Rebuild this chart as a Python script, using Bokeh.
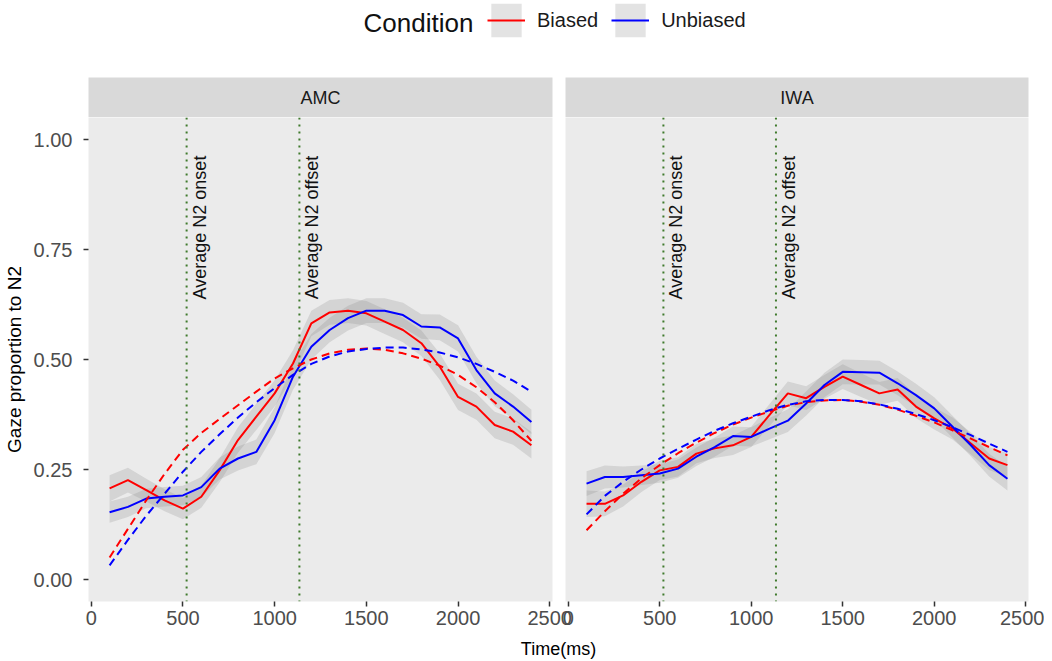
from math import pi
from bokeh.plotting import figure
from bokeh.models import (ColumnDataSource, Span, Label, Range1d, FixedTicker,
                          NumeralTickFormatter, Legend, LegendItem)
from bokeh.layouts import row, column
from bokeh.embed import file_html
from bokeh.resources import INLINE
from bokeh.core.properties import value

# ---------------- data ----------------
time_ms = [100, 200, 300, 400, 500, 600, 700, 800, 900, 1000, 1100, 1200,
           1300, 1400, 1500, 1600, 1700, 1800, 1900, 2000, 2100, 2200, 2300, 2400]

amc_biased = [0.207, 0.226, 0.203, 0.180, 0.161, 0.188, 0.248, 0.317, 0.370, 0.423, 0.491, 0.582,
              0.607, 0.611, 0.605, 0.586, 0.567, 0.537, 0.484, 0.415, 0.393, 0.351, 0.336, 0.305]
amc_biased_se = [0.030, 0.028, 0.026, 0.025, 0.024, 0.025, 0.027, 0.029, 0.030, 0.030, 0.030, 0.029,
                 0.028, 0.028, 0.028, 0.028, 0.028, 0.029, 0.030, 0.030, 0.030, 0.030, 0.030, 0.030]
amc_unbiased = [0.153, 0.165, 0.184, 0.188, 0.191, 0.210, 0.252, 0.275, 0.290, 0.362, 0.461, 0.529,
                0.567, 0.594, 0.611, 0.611, 0.601, 0.575, 0.573, 0.548, 0.476, 0.423, 0.393, 0.358]
amc_unbiased_se = [0.024, 0.023, 0.022, 0.022, 0.022, 0.023, 0.025, 0.027, 0.028, 0.029, 0.030, 0.029,
                   0.028, 0.028, 0.028, 0.028, 0.028, 0.028, 0.029, 0.030, 0.030, 0.029, 0.028, 0.028]
amc_biased_fit = [0.050, 0.115, 0.180, 0.240, 0.295, 0.333, 0.365, 0.396, 0.427, 0.457, 0.480, 0.500,
                  0.514, 0.522, 0.525, 0.522, 0.514, 0.502, 0.486, 0.465, 0.437, 0.403, 0.362, 0.315]
amc_unbiased_fit = [0.032, 0.090, 0.145, 0.195, 0.245, 0.290, 0.330, 0.368, 0.403, 0.435, 0.465, 0.490,
                    0.507, 0.518, 0.524, 0.527, 0.527, 0.523, 0.516, 0.505, 0.490, 0.472, 0.452, 0.427]

iwa_biased = [0.172, 0.172, 0.191, 0.222, 0.248, 0.256, 0.286, 0.298, 0.305, 0.324, 0.374, 0.423,
              0.412, 0.438, 0.461, 0.442, 0.423, 0.432, 0.393, 0.366, 0.343, 0.309, 0.275, 0.260]
iwa_biased_se = [0.030, 0.028, 0.025, 0.023, 0.022, 0.022, 0.022, 0.022, 0.022, 0.023, 0.025, 0.027,
                 0.027, 0.027, 0.028, 0.027, 0.026, 0.026, 0.026, 0.025, 0.025, 0.025, 0.026, 0.027]
iwa_unbiased = [0.218, 0.233, 0.233, 0.237, 0.241, 0.252, 0.279, 0.301, 0.326, 0.324, 0.343, 0.361,
                0.400, 0.442, 0.472, 0.471, 0.470, 0.446, 0.419, 0.389, 0.347, 0.305, 0.260, 0.229]
iwa_unbiased_se = [0.028, 0.026, 0.024, 0.022, 0.021, 0.021, 0.021, 0.022, 0.022, 0.022, 0.024, 0.026,
                   0.027, 0.028, 0.028, 0.028, 0.027, 0.027, 0.026, 0.025, 0.025, 0.025, 0.026, 0.027]
iwa_biased_fit = [0.112, 0.155, 0.195, 0.230, 0.260, 0.287, 0.311, 0.333, 0.352, 0.368, 0.382, 0.395,
                  0.403, 0.407, 0.408, 0.404, 0.397, 0.386, 0.372, 0.357, 0.339, 0.320, 0.301, 0.282]
iwa_unbiased_fit = [0.148, 0.190, 0.222, 0.250, 0.275, 0.297, 0.318, 0.338, 0.355, 0.370, 0.385, 0.397,
                    0.405, 0.408, 0.408, 0.405, 0.398, 0.388, 0.376, 0.362, 0.346, 0.328, 0.309, 0.290]

n2_onset = 520
n2_offset = 1135
panel_names = ["AMC", "IWA"]
conditions = ["Biased", "Unbiased"]
x_ticks = [0, 500, 1000, 1500, 2000, 2500]
y_ticks = [0, 0.25, 0.5, 0.75, 1.0]

# ---------------- style ----------------
FONT = "Liberation Sans"
COLORS = {"Biased": "#ff0000", "Unbiased": "#0000ff"}
PANEL_BG = "#ebebeb"
STRIP_BG = "#d9d9d9"
RIBBON = "#8c8c8c"
RIBBON_ALPHA = 0.24
GUIDE = "#3f7a2c"

X_RANGE = (-15, 2515)
Y_RANGE = (-0.05, 1.05)
FRAME_H = 484
STRIP_H = 40
BOTTOM = 34
LEG_H = 77
XLAB_H = 26


def build_panel(name, series, left):
    mbl = 88 if left else 13
    mbr = 22 if left else 16
    fw = 464 if left else 463
    xr = Range1d(*X_RANGE)
    p = figure(width=mbl + fw + mbr, height=FRAME_H + BOTTOM, x_range=xr,
               y_range=Range1d(*Y_RANGE), title=None, output_backend="svg",
               toolbar_location=None, y_axis_location="left" if left else None,
               min_border_left=mbl, min_border_right=mbr, min_border_top=0,
               min_border_bottom=BOTTOM)
    p.background_fill_color = PANEL_BG
    p.border_fill_color = "white" if left else None
    p.outline_line_color = None
    p.grid.visible = False

    for cond in conditions:
        mean, se, fit = series[cond]
        src = ColumnDataSource(dict(
            t=time_ms, m=mean,
            lo=[a - b for a, b in zip(mean, se)],
            hi=[a + b for a, b in zip(mean, se)],
            fit=fit))
        p.varea(x="t", y1="lo", y2="hi", source=src, fill_color=RIBBON,
                fill_alpha=RIBBON_ALPHA)
        series[cond] = src
    for cond in conditions:
        p.line(x="t", y="m", source=series[cond], line_color=COLORS[cond], line_width=2)
    for cond in conditions:
        p.line(x="t", y="fit", source=series[cond], line_color=COLORS[cond],
               line_width=2, line_dash="8 5")

    for loc, txt in [(n2_onset, "Average N2 onset"), (n2_offset, "Average N2 offset")]:
        p.add_layout(Span(location=loc, dimension="height", line_color=GUIDE,
                          line_width=2, line_dash="2 5"))
        p.add_layout(Label(x=loc, y=0.8, text=txt, angle=pi / 2,
                           text_align="center", text_baseline="top", x_offset=3,
                           text_font=FONT, text_font_size="18px", text_color="#111111"))

    xa = p.xaxis[0]
    xa.ticker = FixedTicker(ticks=x_ticks)
    axes = [xa]
    if left:
        ya = p.yaxis[0]
        ya.ticker = FixedTicker(ticks=y_ticks)
        ya.formatter = NumeralTickFormatter(format="0.00")
        ya.axis_label = "Gaze proportion to N2"
        ya.axis_label_text_font = FONT
        ya.axis_label_text_font_size = "19px"
        ya.axis_label_text_font_style = "normal"
        ya.axis_label_text_color = "#000000"
        ya.axis_label_standoff = 6
        ya.major_label_standoff = 11
        axes.append(ya)
    for ax in axes:
        ax.axis_line_color = None
        ax.major_tick_line_color = "#333333"
        ax.major_tick_line_width = 1.5
        ax.major_tick_out = 5
        ax.major_tick_in = 0
        ax.minor_tick_line_color = None
        ax.major_label_text_font = FONT
        ax.major_label_text_font_size = "20px"
        ax.major_label_text_color = "#4d4d4d"
    xa.major_label_standoff = 4

    strip = figure(width=mbl + fw + mbr, height=STRIP_H, x_range=xr,
                   y_range=Range1d(0, 1), title=None, output_backend="svg",
                   toolbar_location=None, x_axis_location=None, y_axis_location=None,
                   min_border_left=mbl, min_border_right=mbr, min_border_top=0,
                   min_border_bottom=0)
    strip.background_fill_color = STRIP_BG
    strip.border_fill_color = "white" if left else None
    strip.outline_line_color = None
    strip.grid.visible = False
    strip.add_layout(Label(x=sum(X_RANGE) / 2, y=0.5, text=name, text_align="center",
                           text_baseline="middle", text_font=FONT,
                           text_font_size="18px", text_color="#1a1a1a"))
    return strip, p


amc_strip, amc = build_panel(panel_names[0], {
    "Biased": (amc_biased, amc_biased_se, amc_biased_fit),
    "Unbiased": (amc_unbiased, amc_unbiased_se, amc_unbiased_fit)}, True)
iwa_strip, iwa = build_panel(panel_names[1], {
    "Biased": (iwa_biased, iwa_biased_se, iwa_biased_fit),
    "Unbiased": (iwa_unbiased, iwa_unbiased_se, iwa_unbiased_fit)}, False)

# ---------------- legend (top) ----------------
leg = figure(width=1044, height=LEG_H, x_range=Range1d(0, 1), y_range=Range1d(0, 1),
             title=None, output_backend="svg", toolbar_location=None,
             x_axis_location=None, y_axis_location=None, min_border=0)
leg.outline_line_color = None
leg.grid.visible = False
items = []
# proxy renderers for the legend keys (their data lie outside this strip's ranges)
for cond, mean in zip(conditions, [amc_biased, amc_unbiased]):
    proxy = ColumnDataSource(dict(t=time_ms, m=mean))
    r1 = leg.varea(x="t", y1="m", y2="m", source=proxy, fill_color=RIBBON,
                   fill_alpha=RIBBON_ALPHA)
    r2 = leg.line(x="t", y="m", source=proxy, line_color=COLORS[cond], line_width=2)
    items.append(LegendItem(label=value(cond), renderers=[r1, r2]))
legend = Legend(items=items, orientation="horizontal", location=(487, 36),
                glyph_width=38, glyph_height=42, label_standoff=12, spacing=13,
                padding=0, margin=0, border_line_color=None, background_fill_alpha=0,
                label_text_font=FONT, label_text_font_size="20px",
                label_text_color="#1a1a1a")
leg.add_layout(legend, "center")
leg.add_layout(Label(x=363, y=LEG_H - 22, x_units="screen", y_units="screen",
                     text="Condition", text_font=FONT, text_font_size="26px",
                     text_color="#111111", text_baseline="middle"))

# ---------------- x title (bottom) ----------------
xlab = figure(width=1044, height=XLAB_H, x_range=Range1d(0, 1), y_range=Range1d(0, 1),
              title=None, output_backend="svg", toolbar_location=None,
              x_axis_location=None, y_axis_location=None, min_border=0)
xlab.outline_line_color = None
xlab.grid.visible = False
xlab.add_layout(Label(x=558, y=13, x_units="screen", y_units="screen", text="Time(ms)",
                      text_align="center", text_baseline="middle", text_font=FONT,
                      text_font_size="18px", text_color="#000000"))

left_col = column(amc_strip, amc)
right_col = column(iwa_strip, iwa, margin=(0, 0, 0, -22))
page = column(leg, row(left_col, right_col), xlab)

open("out.html", "w").write(file_html(page, INLINE))
